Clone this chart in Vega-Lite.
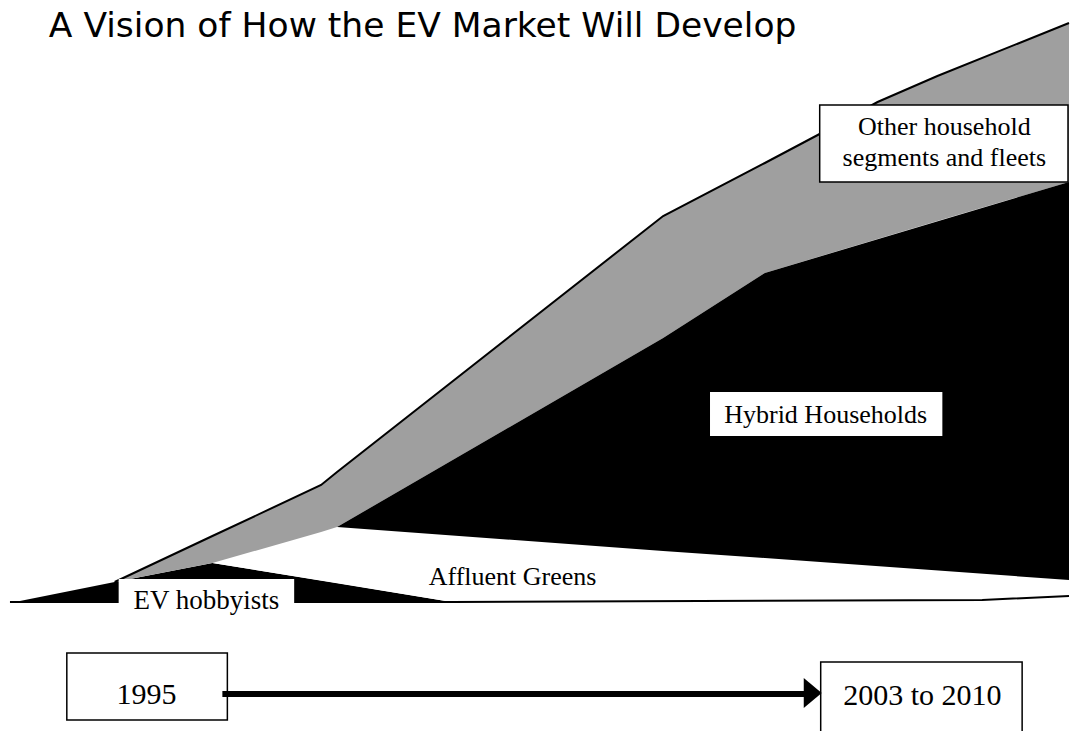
{
  "$schema": "https://vega.github.io/schema/vega-lite/v6.json",
  "width": 1073,
  "height": 731,
  "padding": 0,
  "autosize": {"type": "fit", "contains": "padding"},
  "background": "white",
  "config": {"view": {"stroke": null}},
  "datasets": {
    "hobbyists": [
      {"segment": "EV hobbyists", "x": 10, "y": 603, "y2": 603},
      {"segment": "EV hobbyists", "x": 115, "y": 582, "y2": 603},
      {"segment": "EV hobbyists", "x": 213, "y": 563, "y2": 603},
      {"segment": "EV hobbyists", "x": 453, "y": 602, "y2": 603}
    ],
    "greens": [
      {"segment": "Affluent Greens", "x": 213, "y": 563, "y2": 563},
      {"segment": "Affluent Greens", "x": 338, "y": 527, "y2": 583},
      {"segment": "Affluent Greens", "x": 453, "y": 535, "y2": 602},
      {"segment": "Affluent Greens", "x": 985, "y": 574, "y2": 601},
      {"segment": "Affluent Greens", "x": 1072, "y": 580, "y2": 597}
    ],
    "other": [
      {"segment": "Other household segments and fleets", "x": 115, "y": 582, "y2": 582},
      {"segment": "Other household segments and fleets", "x": 213, "y": 536, "y2": 563},
      {"segment": "Other household segments and fleets", "x": 322, "y": 485, "y2": 532},
      {"segment": "Other household segments and fleets", "x": 338, "y": 472, "y2": 527},
      {"segment": "Other household segments and fleets", "x": 665, "y": 216, "y2": 338},
      {"segment": "Other household segments and fleets", "x": 767, "y": 163, "y2": 273},
      {"segment": "Other household segments and fleets", "x": 820, "y": 135, "y2": 257},
      {"segment": "Other household segments and fleets", "x": 880, "y": 102, "y2": 239},
      {"segment": "Other household segments and fleets", "x": 940, "y": 76, "y2": 221},
      {"segment": "Other household segments and fleets", "x": 1072, "y": 23, "y2": 182}
    ],
    "hybrid": [
      {"segment": "Hybrid Households", "x": 338, "y": 527, "y2": 527},
      {"segment": "Hybrid Households", "x": 665, "y": 338, "y2": 551},
      {"segment": "Hybrid Households", "x": 767, "y": 273, "y2": 558},
      {"segment": "Hybrid Households", "x": 1072, "y": 182, "y2": 580}
    ],
    "baseline": [
      {"x": 10, "y": 602},
      {"x": 453, "y": 602},
      {"x": 985, "y": 600},
      {"x": 1072, "y": 596}
    ],
    "boxes": [
      {"box": "other", "x": 822, "x2": 1071, "y": 105, "y2": 182, "framed": true},
      {"box": "hybrid", "x": 712, "x2": 945, "y": 392, "y2": 436, "framed": false},
      {"box": "hobbyists", "x": 119, "x2": 295, "y": 579, "y2": 628, "framed": false},
      {"box": "start", "x": 67, "x2": 228, "y": 653, "y2": 720, "framed": true},
      {"box": "end", "x": 823, "x2": 1025, "y": 662, "y2": 745, "framed": true}
    ],
    "arrow": [
      {"x": 223, "x2": 808, "y": 694}
    ],
    "arrowhead": [
      {"x": 806, "y": 678, "y2": 708},
      {"x": 824, "y": 693, "y2": 693}
    ],
    "labels": [
      {"text": "Other household", "x": 947, "y": 135, "size": 26},
      {"text": "segments and fleets", "x": 947, "y": 166, "size": 26},
      {"text": "Hybrid Households", "x": 828, "y": 423, "size": 26},
      {"text": "Affluent Greens", "x": 514, "y": 585, "size": 26},
      {"text": "EV hobbyists", "x": 207, "y": 609, "size": 27},
      {"text": "1995", "x": 147, "y": 704, "size": 30},
      {"text": "2003 to 2010", "x": 925, "y": 705, "size": 30}
    ],
    "title": [
      {"text": "A Vision of How the EV Market Will Develop", "x": 49, "y": 37}
    ]
  },
  "encoding": {
    "x": {"field": "x", "type": "quantitative", "scale": {"domain": [0, 1073], "nice": false, "zero": false}, "axis": null},
    "y": {"field": "y", "type": "quantitative", "scale": {"domain": [731, 0], "nice": false, "zero": false}, "axis": null}
  },
  "layer": [
    {"data": {"name": "hobbyists"}, "mark": {"type": "area", "color": "black", "interpolate": "linear"}, "encoding": {"y2": {"field": "y2"}}},
    {"data": {"name": "greens"}, "mark": {"type": "area", "color": "white", "interpolate": "linear"}, "encoding": {"y2": {"field": "y2"}}},
    {"data": {"name": "other"}, "mark": {"type": "area", "color": "#9f9f9f", "interpolate": "linear"}, "encoding": {"y2": {"field": "y2"}}},
    {"data": {"name": "other"}, "mark": {"type": "line", "color": "black", "strokeWidth": 2, "interpolate": "linear"}, "encoding": {}},
    {"data": {"name": "hybrid"}, "mark": {"type": "area", "color": "black", "interpolate": "linear"}, "encoding": {"y2": {"field": "y2"}}},
    {"data": {"name": "baseline"}, "mark": {"type": "line", "color": "black", "strokeWidth": 2}, "encoding": {}},
    {"data": {"name": "boxes"}, "mark": {"type": "rect", "fill": "white", "clip": true},
      "encoding": {
        "x2": {"field": "x2"},
        "y2": {"field": "y2"},
        "stroke": {"condition": {"test": "datum.framed", "value": "black"}, "value": null},
        "strokeWidth": {"value": 1.5}
      }},
    {"data": {"name": "arrow"}, "mark": {"type": "rule", "color": "black", "strokeWidth": 6}, "encoding": {"x2": {"field": "x2"}}},
    {"data": {"name": "arrowhead"}, "mark": {"type": "area", "color": "black"}, "encoding": {"y2": {"field": "y2"}}},
    {"data": {"name": "labels"}, "mark": {"type": "text", "font": "Liberation Serif", "color": "black", "align": "center", "baseline": "alphabetic"},
      "encoding": {"text": {"field": "text"}, "size": {"field": "size", "type": "quantitative", "scale": null}}},
    {"data": {"name": "title"}, "mark": {"type": "text", "font": "DejaVu Sans", "fontSize": 34.5, "color": "black", "align": "left", "baseline": "alphabetic"},
      "encoding": {"text": {"field": "text"}}}
  ]
}
